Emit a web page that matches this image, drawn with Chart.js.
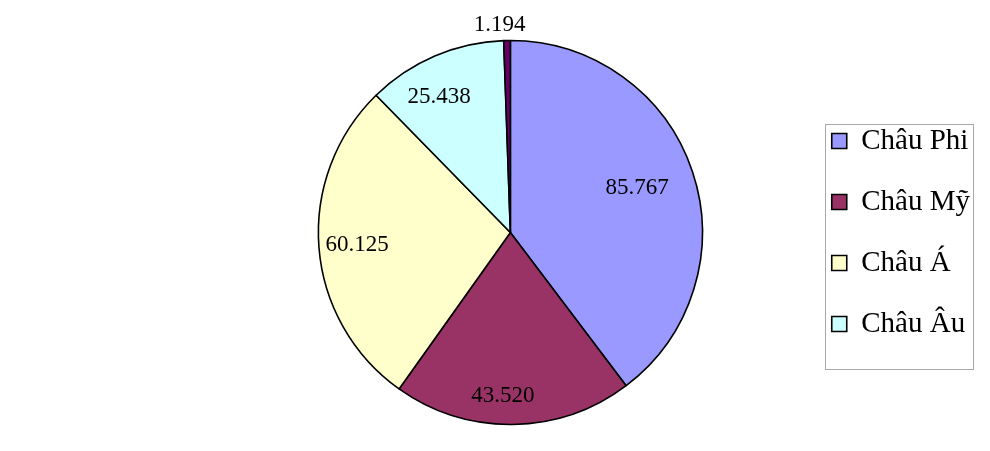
<!DOCTYPE html>
<html>
<head>
<meta charset="utf-8">
<script src="https://cdn.jsdelivr.net/npm/chart.js@4.4.1/dist/chart.umd.min.js"></script>
<style>
html,body{margin:0;padding:0;background:#fff;}
#wrap{width:990px;height:451px;position:relative;}
</style>
</head>
<body>
<div id="wrap"><canvas id="c" width="990" height="451"></canvas></div>
<script>
const categories = ["Châu Phi", "Châu Mỹ", "Châu Á", "Châu Âu", "Châu Đại Dương"];
const values = [85.767, 43.520, 60.125, 25.438, 1.194];
const valueLabels = ["85.767", "43.520", "60.125", "25.438", "1.194"];
const colors = ["#9999FF", "#993366", "#FFFFCC", "#CCFFFF", "#660066"];
const legendCount = 4;

const labelPlugin = {
  id: 'sliceLabels',
  afterDatasetsDraw(chart, args, opts) {
    const ctx = chart.ctx;
    const meta = chart.getDatasetMeta(0);
    ctx.save();
    ctx.font = '23px "Liberation Serif", "Times New Roman", serif';
    ctx.fillStyle = '#000';
    ctx.textAlign = 'center';
    ctx.textBaseline = 'middle';
    meta.data.forEach((arc, i) => {
      const p = arc.getProps(['x','y','startAngle','endAngle','outerRadius'], true);
      const mid = (p.startAngle + p.endAngle) / 2 + opts.turn[i] * Math.PI / 180;
      const r = p.outerRadius * opts.radial[i];
      ctx.fillText(valueLabels[i], p.x + Math.cos(mid) * r, p.y + Math.sin(mid) * r);
    });
    ctx.restore();
  }
};

const legendBoxPlugin = {
  id: 'legendBox',
  afterDraw(chart) {
    const lg = chart.legend;
    if (!lg || !lg.legendHitBoxes || !lg.legendHitBoxes.length) return;
    const hb = lg.legendHitBoxes;
    const lo = lg.options.labels;
    const fs = lo.font.size;
    const ctx = chart.ctx;
    ctx.save();
    ctx.font = fs + 'px "Liberation Serif", "Times New Roman", serif';
    let right = 0;
    lg.legendItems.forEach((it, i) => {
      right = Math.max(right, hb[i].left + lo.boxWidth + fs / 2 + ctx.measureText(it.text).width);
    });
    const first = hb[0], last = hb[hb.length - 1];
    const left = first.left - 7;
    right += 3;
    const top = first.top - 3;
    const bottom = last.top + last.height + 30;
    ctx.strokeStyle = '#a8a8a8';
    ctx.lineWidth = 1;
    ctx.strokeRect(Math.round(left) + 0.5, Math.round(top) + 0.5, Math.round(right - left), Math.round(bottom - top));
    ctx.restore();
  }
};

new Chart(document.getElementById('c'), {
  type: 'pie',
  data: {
    labels: categories,
    datasets: [{
      data: values,
      backgroundColor: colors,
      borderColor: '#000',
      borderWidth: 1.6,
      hoverOffset: 0
    }]
  },
  options: {
    responsive: false,
    animation: false,
    radius: 192,
    layout: { padding: { left: 221, right: 10, top: 40, bottom: 26 } },
    plugins: {
      tooltip: { enabled: false },
      legend: {
        position: 'right',
        labels: {
          filter: (item) => item.index < legendCount,
          font: { family: '"Liberation Serif", "Times New Roman", serif', size: 29 },
          color: '#000',
          boxWidth: 15,
          boxHeight: 15,
          padding: 32
        }
      },
      sliceLabels: { radial: [0.70, 0.85, 0.80, 0.80, 1.08], turn: [-1, 3.5, 0, -4.5, -2] }
    }
  },
  plugins: [labelPlugin, legendBoxPlugin]
});
</script>
</body>
</html>
